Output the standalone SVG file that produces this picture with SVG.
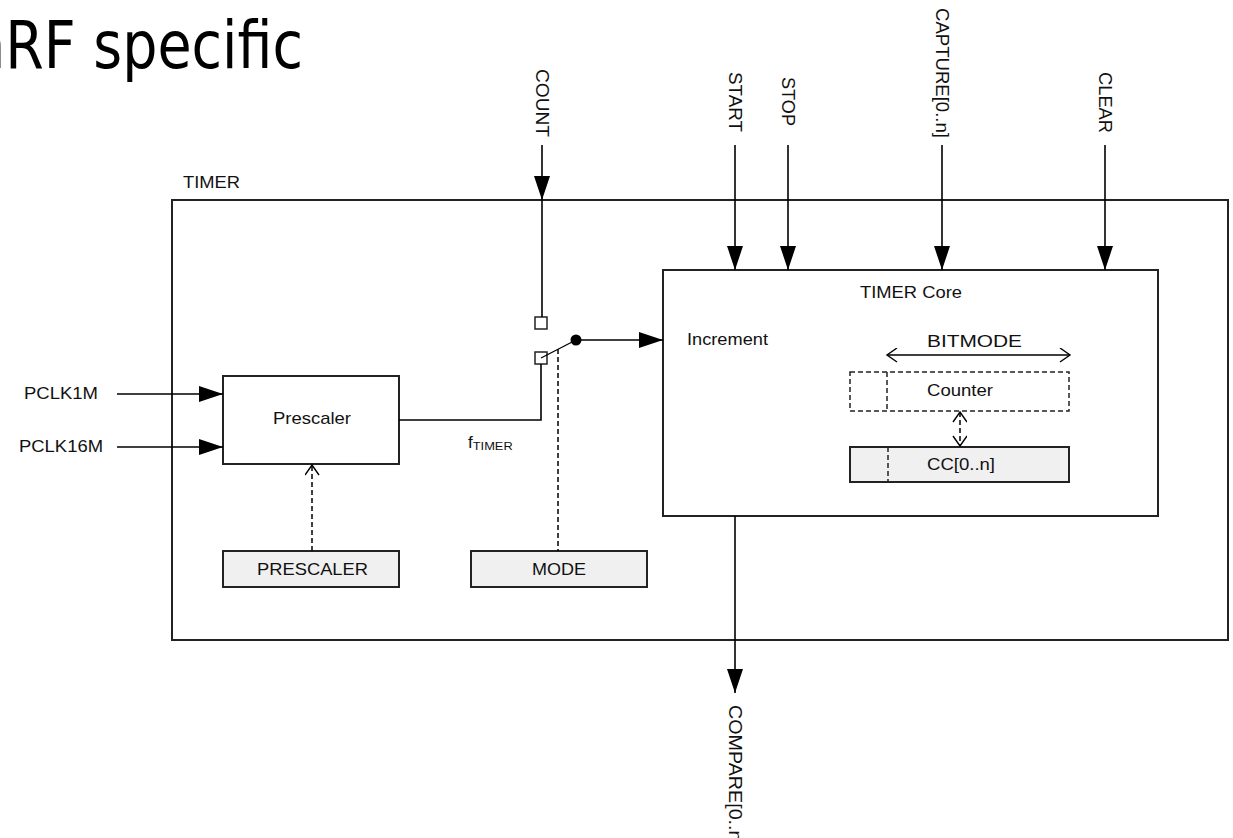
<svg xmlns="http://www.w3.org/2000/svg" width="1233" height="838" viewBox="0 0 1233 838">
<style>
.t{font-family:"Liberation Sans",Arial,sans-serif;font-size:17px;fill:#111}
.v{font-family:"Liberation Sans",Arial,sans-serif;font-size:18.5px;fill:#111}
.box{fill:#fff;stroke:#222;stroke-width:2}
.reg{fill:#f0f0f0;stroke:#222;stroke-width:2}
.ln{fill:none;stroke:#000;stroke-width:1.6}
.dash{fill:none;stroke:#000;stroke-width:1.5;stroke-dasharray:5,3}
</style>
<defs>
<marker id="fa" markerUnits="userSpaceOnUse" markerWidth="26" markerHeight="18" refX="24" refY="8" orient="auto">
<path d="M0,0 L24,8 L0,16 z" fill="#000"/>
</marker>
<marker id="oa" markerUnits="userSpaceOnUse" markerWidth="14" markerHeight="16" refX="11" refY="7" orient="auto">
<path d="M1,0 L11,7 L1,14" fill="none" stroke="#000" stroke-width="1.4"/>
</marker>
<marker id="oas" markerUnits="userSpaceOnUse" markerWidth="14" markerHeight="16" refX="3" refY="7" orient="auto">
<path d="M13,0 L3,7 L13,14" fill="none" stroke="#000" stroke-width="1.4"/>
</marker>
</defs>
<rect width="1233" height="838" fill="#fff"/>
<text x="-30" y="68" font-family="DejaVu Sans,sans-serif" font-size="66" textLength="333" lengthAdjust="spacingAndGlyphs" fill="#000">nRF specific</text>

<g id="timer">
<rect class="box" x="172" y="200" width="1056" height="440"/>
<text class="t" x="183" y="188" textLength="57" lengthAdjust="spacingAndGlyphs">TIMER</text>
</g>
<g id="core">
<rect class="box" x="663" y="270" width="495" height="246"/>
<text class="t" x="860" y="298" textLength="102" lengthAdjust="spacingAndGlyphs">TIMER Core</text>
<text class="t" x="687" y="345" textLength="81" lengthAdjust="spacingAndGlyphs">Increment</text>
</g>
<g id="prescaler">
<rect class="box" x="223" y="376" width="176" height="88"/>
<text class="t" x="273" y="424" textLength="78" lengthAdjust="spacingAndGlyphs">Prescaler</text>
</g>
<g id="prescaler-reg">
<rect class="reg" x="223" y="551" width="176" height="36"/>
<text class="t" x="257" y="575" textLength="111" lengthAdjust="spacingAndGlyphs">PRESCALER</text>
</g>
<g id="mode-reg">
<rect class="reg" x="471" y="551" width="176" height="36"/>
<text class="t" x="532" y="575" textLength="54" lengthAdjust="spacingAndGlyphs">MODE</text>
</g>
<g id="counter">
<rect x="850" y="372" width="219" height="39" fill="#fff" stroke="#222" stroke-width="1.5" stroke-dasharray="5,3"/>
<line x1="887" y1="372" x2="887" y2="411" stroke="#222" stroke-width="1.5" stroke-dasharray="5,3"/>
<text class="t" x="927" y="396" textLength="66" lengthAdjust="spacingAndGlyphs">Counter</text>
</g>
<g id="cc">
<rect class="reg" x="850" y="447" width="219" height="35"/>
<line x1="888" y1="447" x2="888" y2="482" stroke="#222" stroke-width="1.5" stroke-dasharray="5,3"/>
<text class="t" x="927" y="470" textLength="68" lengthAdjust="spacingAndGlyphs">CC[0..n]</text>
</g>
<g id="switch">
<rect x="535" y="317" width="12" height="12" fill="#fff" stroke="#222" stroke-width="1.5"/>
<rect x="535" y="352" width="12" height="12" fill="#fff" stroke="#222" stroke-width="1.5"/>
<line x1="541" y1="358" x2="576" y2="340" stroke="#000" stroke-width="1.3"/>
<circle cx="576" cy="340" r="5.5" fill="#000"/>
</g>
<g id="labels">
<text class="t" x="24" y="399" textLength="74" lengthAdjust="spacingAndGlyphs">PCLK1M</text>
<text class="t" x="19" y="452" textLength="84" lengthAdjust="spacingAndGlyphs">PCLK16M</text>
<text class="t" x="468" y="448" font-size="15">f<tspan font-size="10.5" dy="2" textLength="40" lengthAdjust="spacingAndGlyphs">TIMER</tspan></text>
<text class="t" x="927" y="347" textLength="95" lengthAdjust="spacingAndGlyphs">BITMODE</text>
<text class="v" transform="translate(536,69) rotate(90)" textLength="68" lengthAdjust="spacingAndGlyphs">COUNT</text>
<text class="v" transform="translate(728.5,72) rotate(90)" textLength="60" lengthAdjust="spacingAndGlyphs">START</text>
<text class="v" transform="translate(781.5,77) rotate(90)" textLength="49" lengthAdjust="spacingAndGlyphs">STOP</text>
<text class="v" transform="translate(935.5,8) rotate(90)" textLength="130" lengthAdjust="spacingAndGlyphs">CAPTURE[0..n]</text>
<text class="v" transform="translate(1098.5,72) rotate(90)" textLength="61" lengthAdjust="spacingAndGlyphs">CLEAR</text>
<text class="v" transform="translate(728.5,705) rotate(90)" textLength="142" lengthAdjust="spacingAndGlyphs">COMPARE[0..n]</text>
</g>
<g id="connectors">
<line class="ln" x1="542" y1="145" x2="542" y2="200" marker-end="url(#fa)"/>
<line class="ln" x1="542" y1="200" x2="542" y2="317"/>
<line class="ln" x1="735" y1="145" x2="735" y2="270" marker-end="url(#fa)"/>
<line class="ln" x1="788" y1="145" x2="788" y2="270" marker-end="url(#fa)"/>
<line class="ln" x1="942" y1="145" x2="942" y2="270" marker-end="url(#fa)"/>
<line class="ln" x1="1105" y1="145" x2="1105" y2="270" marker-end="url(#fa)"/>
<line class="ln" x1="735" y1="516" x2="735" y2="693" marker-end="url(#fa)"/>
<line class="ln" x1="117" y1="394" x2="223" y2="394" marker-end="url(#fa)"/>
<line class="ln" x1="117" y1="447" x2="223" y2="447" marker-end="url(#fa)"/>
<polyline class="ln" points="399,420 541,420 541,364"/>
<line class="ln" x1="576" y1="340" x2="663" y2="340" marker-end="url(#fa)"/>
<line class="dash" x1="558" y1="349" x2="558" y2="551"/>
<line class="dash" x1="312" y1="551" x2="312" y2="465" marker-end="url(#oa)"/>
<line class="ln" x1="887" y1="355" x2="1070" y2="355" marker-start="url(#oas)" marker-end="url(#oa)"/>
<line class="dash" x1="960" y1="412" x2="960" y2="446" marker-start="url(#oas)" marker-end="url(#oa)"/>
</g>
</svg>
